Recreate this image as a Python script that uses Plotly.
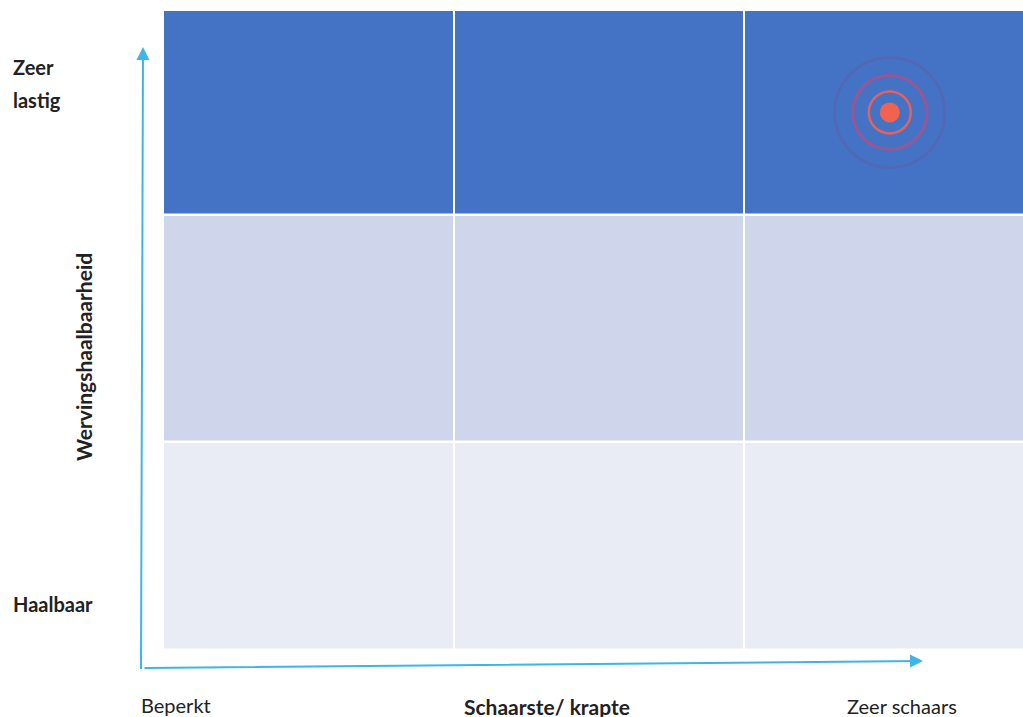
import plotly.graph_objects as go

# ---- data ----
x_edges = [0, 1, 2, 3]                 # scarcity columns: Beperkt -> Zeer schaars
y_edges = [0, 0.975, 2.04, 3]          # feasibility rows: Haalbaar -> Zeer lastig
cell_level = [[0, 0, 0],               # bottom row (Haalbaar)
              [1, 1, 1],               # middle row
              [2, 2, 2]]               # top row (Zeer lastig)
target_col = 2                         # Zeer schaars
target_row = 2                         # Zeer lastig
x_labels = ["Beperkt", "Zeer schaars"]
y_labels = ["Zeer", "lastig", "Haalbaar"]
x_title = "Schaarste/ krapte"
y_title = "Wervingshaalbaarheid"

W, H = 1023, 717
ML, MR, MT, MB = 163, 0, 10, 67
PW, PH = W - ML - MR, H - MT - MB

def px(x):  # pixel -> paper x
    return (x - ML) / PW

def py(y):  # pixel -> paper y
    return (H - MB - y) / PH

FONT = "Lato"
fig = go.Figure()

fig.add_trace(go.Heatmap(
    x=x_edges, y=y_edges, z=cell_level,
    colorscale=[[0, "#E9EBF5"], [0.5, "#CFD5EA"], [1, "#4472C4"]],
    zmin=0, zmax=2, showscale=False, xgap=2, ygap=2.5, hoverinfo="skip",
))

tx = (x_edges[target_col] + x_edges[target_col + 1]) / 2
ty = (y_edges[target_row] + y_edges[target_row + 1]) / 2
rings = [(110, 2.5, "rgba(95,95,170,0.6)"),
         (74, 3.5, "rgba(150,88,150,0.9)"),
         (42, 2.5, "#E4625C")]
for size, width, color in rings:
    fig.add_trace(go.Scatter(
        x=[tx], y=[ty], mode="markers", hoverinfo="skip",
        marker=dict(symbol="circle-open", size=size, color=color,
                    line=dict(width=width, color=color)),
    ))
fig.add_trace(go.Scatter(
    x=[tx], y=[ty], mode="markers", hoverinfo="skip",
    marker=dict(symbol="circle", size=20, color="#F2634F", line=dict(width=0)),
))

arrow_color = "#3DB5E6"
annotations = [
    dict(x=px(143), y=py(47), xref="paper", yref="paper", ax=-2, ay=622,
         showarrow=True, arrowhead=2, arrowsize=1.3, arrowwidth=2,
         arrowcolor=arrow_color, text=""),
    dict(x=px(923), y=py(661), xref="paper", yref="paper", ax=-782, ay=7,
         showarrow=True, arrowhead=2, arrowsize=1.3, arrowwidth=2,
         arrowcolor=arrow_color, text=""),
    dict(x=px(11), y=py(67), text="<b>" + y_labels[0] + "</b>"),
    dict(x=px(11), y=py(100), text="<b>" + y_labels[1] + "</b>"),
    dict(x=px(11), y=py(604), text="<b>" + y_labels[2] + "</b>"),
    dict(x=px(139), y=py(705), text=x_labels[0]),
    dict(x=px(845), y=py(706), text=x_labels[1]),
    dict(x=px(547), y=py(706), text="<b>" + x_title + "</b>", xanchor="center",
         font=dict(family=FONT, size=21, color="#222222")),
    dict(x=px(83), y=py(357), text="<b>" + y_title + "</b>", xanchor="center",
         textangle=-90, font=dict(family=FONT, size=21, color="#222222")),
]
for a in annotations:
    a.setdefault("xref", "paper")
    a.setdefault("yref", "paper")
    a.setdefault("showarrow", False)
    a.setdefault("xanchor", "left")
    a.setdefault("yanchor", "middle")
    a.setdefault("font", dict(family=FONT, size=20, color="#222222"))
fig.update_layout(
    width=W, height=H, margin=dict(l=ML, r=MR, t=MT, b=MB),
    paper_bgcolor="white", plot_bgcolor="white", showlegend=False,
    annotations=annotations,
    xaxis=dict(range=[0, PW / 290.7], visible=False, fixedrange=True),
    yaxis=dict(range=[0, 3], visible=False, fixedrange=True),
)
fig.write_html("out.html", config={"displayModeBar": False},
               post_script="document.body.style.margin='0';")
